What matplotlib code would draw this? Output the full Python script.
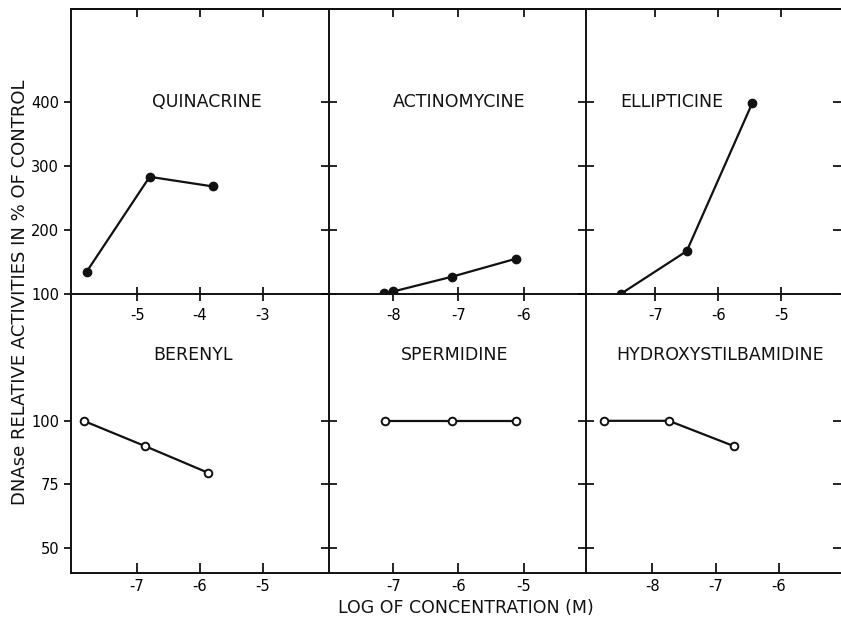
"""
DNAse relative activities vs log concentration, six drugs in a 2x3 grid.
Output: out.png (841x617)
"""
import matplotlib
matplotlib.use("Agg")
import matplotlib.pyplot as plt

plt.rcParams.update({"font.family": "DejaVu Sans"})
INK = "#111111"

# ── data ─────────────────────────────────────────────────────────────────────
names_top = ["QUINACRINE", "ACTINOMYCINE", "ELLIPTICINE"]
x_top = [[-5.8, -4.8, -3.8],
         [-8.15, -8.0, -7.1, -6.12],
         [-7.55, -6.5, -5.46]]
y_top = [[135, 283, 268],
         [101, 104, 127, 155],
         [100, 167, 398]]
xticks_top = [[-5, -4, -3], [-8, -7, -6], [-7, -6, -5]]
xlim_top = [(-6.05, -1.95), (-8.99, -5.04), (-8.1, -4.05)]

names_bot = ["BERENYL", "SPERMIDINE", "HYDROXYSTILBAMIDINE"]
x_bot = [[-7.85, -6.87, -5.87],
         [-7.13, -6.1, -5.12],
         [-8.77, -7.74, -6.71]]
y_bot = [[100, 90, 79.5],
         [100, 100, 100],
         [100, 100, 90]]
xticks_bot = [[-7, -6, -5], [-7, -6, -5], [-8, -7, -6]]
xlim_bot = [(-8.05, -3.95), (-7.99, -4.04), (-9.05, -5.02)]

yticks_top = [100, 200, 300, 400]
yticks_bot = [50, 75, 100]

title_pos_top = [0.527, 0.506, 0.337]
title_pos_bot = [0.473, 0.487, 0.525]

# ── layout (pixel boxes) ─────────────────────────────────────────────────────
W, H = 841, 617
fig = plt.figure(figsize=(W / 100, H / 100), dpi=100)
cols = [(71, 329), (329, 586), (586, 841)]
rows = [(9, 294), (294, 573)]


def add(col, row):
    x0, x1 = cols[col]
    y0, y1 = rows[row]
    return fig.add_axes([x0 / W, 1 - y1 / H, (x1 - x0) / W, (y1 - y0) / H])


def tick_labels(vals):
    return ["-%d" % abs(v) for v in vals]


for i in range(3):
    # bottom row first, transparent so the top row's tick labels show
    bx = add(i, 1)
    bx.patch.set_visible(False)
    bx.plot(x_bot[i], y_bot[i], color=INK, lw=1.6, marker="o", ms=5.5,
            mfc="white", mec=INK, mew=1.4)
    bx.set_xlim(*xlim_bot[i]); bx.set_ylim(40, 150)
    bx.set_xticks(xticks_bot[i]); bx.set_xticklabels(tick_labels(xticks_bot[i]))
    bx.set_yticks(yticks_bot)
    bx.spines["right"].set_visible(False)
    bx.spines["top"].set_visible(False)
    bx.tick_params(axis="x", direction="in", length=7, width=1.2,
                   labelsize=10.5, pad=4)
    bx.text(title_pos_bot[i], 126, names_bot[i], transform=bx.get_yaxis_transform(),
            ha="center", va="center", fontsize=12.5, color=INK)

    # top row
    ax = add(i, 0)
    ax.patch.set_visible(False)
    ax.plot(x_top[i], y_top[i], color=INK, lw=1.6, marker="o", ms=6,
            mfc=INK, mec=INK)
    ax.set_xlim(*xlim_top[i]); ax.set_ylim(100, 545)
    ax.set_xticks(xticks_top[i]); ax.set_xticklabels(tick_labels(xticks_top[i]))
    ax.set_yticks(yticks_top)
    ax.spines["right"].set_visible(False)
    ax.tick_params(axis="x", direction="inout", length=10,
                   width=1.2, labelsize=10.5, pad=5)
    sec = ax.secondary_xaxis("top")
    sec.set_xticks(xticks_top[i])
    sec.tick_params(direction="in", length=6, width=1.2, labeltop=False)
    sec.spines["top"].set_linewidth(1.4)
    ax.text(title_pos_top[i], 400, names_top[i], transform=ax.get_yaxis_transform(),
            ha="center", va="center", fontsize=12.5, color=INK)

    for a in (ax, bx):
        for s in a.spines.values():
            s.set_linewidth(1.4)
            s.set_color(INK)
        if i == 0:
            a.tick_params(axis="y", direction="out", length=5, width=1.2,
                          labelsize=10.5)
        else:
            a.tick_params(axis="y", direction="inout", length=12, width=1.2,
                          labelleft=False, right=(i == 2))

fig.text(20 / W, 1 - 292 / H, "DNAse RELATIVE ACTIVITIES IN % OF CONTROL",
         rotation=90, ha="center", va="center", fontsize=13, color=INK)
fig.text(466 / W, 1 - 608 / H, "LOG OF CONCENTRATION (M)",
         ha="center", va="center", fontsize=12.5, color=INK)

fig.savefig("out.png", dpi=100)
plt.close(fig)
